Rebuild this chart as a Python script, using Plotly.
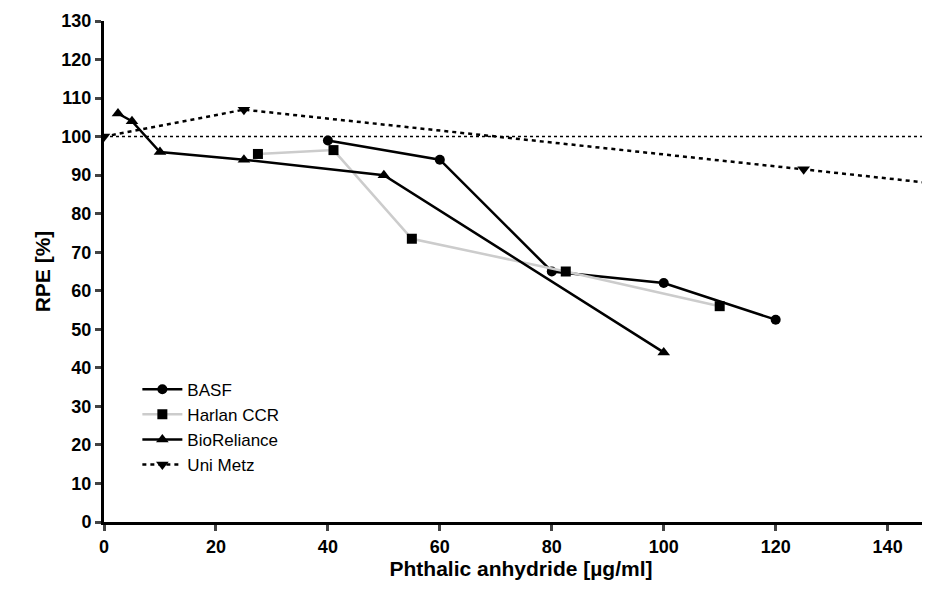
import plotly.graph_objects as go

basf_x = [40, 60, 80, 100, 120]
basf_y = [99, 94, 65, 62, 52.5]
harlan_x = [27.5, 41, 55, 82.5, 110]
harlan_y = [95.5, 96.5, 73.5, 65, 56]
bio_x = [2.5, 5, 10, 25, 50, 100]
bio_y = [106, 104, 96, 94, 90, 44]
metz_x = [0, 25, 125, 160]
metz_y = [100, 107, 91.5, 86]
xticks = [0, 20, 40, 60, 80, 100, 120, 140]
yticks = list(range(0, 131, 10))

fig = go.Figure()
fig.add_trace(go.Scatter(x=basf_x, y=basf_y, name="BASF", mode="lines+markers",
    line=dict(color="black", width=2.5), marker=dict(symbol="circle", size=10, color="black")))
fig.add_trace(go.Scatter(x=harlan_x, y=harlan_y, name="Harlan CCR", mode="lines+markers",
    line=dict(color="#cccccc", width=2.5), marker=dict(symbol="square", size=10, color="black")))
fig.add_trace(go.Scatter(x=bio_x, y=bio_y, name="BioReliance", mode="lines+markers",
    line=dict(color="black", width=2.5), marker=dict(symbol="triangle-up", size=11, color="black")))
fig.add_trace(go.Scatter(x=metz_x, y=metz_y, name="Uni Metz", mode="lines+markers",
    line=dict(color="black", width=2.5, dash="4px,4px"), marker=dict(symbol="triangle-down", size=11, color="black")))
fig.add_shape(type="line", xref="paper", x0=0, x1=1, yref="y", y0=100, y1=100,
    line=dict(color="black", width=1.5, dash="3px,3px"))

fig.update_layout(
    width=930, height=596, plot_bgcolor="white", paper_bgcolor="white",
    margin=dict(l=96, r=0, t=13, b=82),
    font=dict(family="Liberation Sans, Arial", size=18, color="black"),
    showlegend=True,
    legend=dict(x=0.04, y=0.30, xanchor="left", yanchor="top", font=dict(size=17, color="black"),
                bgcolor="rgba(0,0,0,0)", tracegroupgap=8, itemwidth=40),
    xaxis=dict(range=[0, 149], tickvals=xticks, ticktext=[f"<b>{v}</b>" for v in xticks],
               showgrid=False, zeroline=False,
               showline=True, linecolor="black", linewidth=3, ticks="outside", ticklen=6, tickwidth=2.5,
               title=dict(text="<b>Phthalic anhydride [µg/ml]</b>", font=dict(size=21), standoff=6)),
    yaxis=dict(range=[0, 130], tickvals=yticks, ticktext=[f"<b>{v}</b>" for v in yticks],
               showgrid=False, zeroline=False,
               showline=True, linecolor="black", linewidth=3, ticks="outside", ticklen=6, tickwidth=2.5,
               title=dict(text="<b>RPE [%]</b>", font=dict(size=21), standoff=6)),
)
fig.write_html("out.html")
